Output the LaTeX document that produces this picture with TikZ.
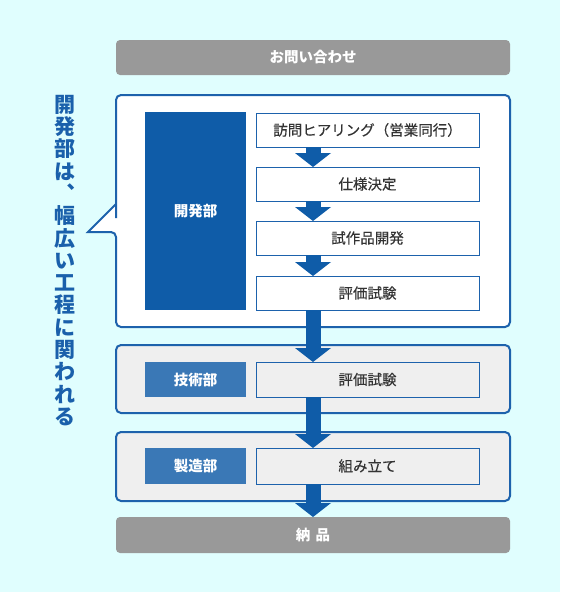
\documentclass[tikz,border=0pt]{standalone}
\usepackage{fontspec}
\setmainfont{Noto Sans CJK JP}
\newfontfamily\jpmed{Noto Sans CJK JP}[FakeBold=0.3]
\usetikzlibrary{arrows.meta}
\definecolor{bgc}{HTML}{E0FEFE}
\definecolor{grayc}{HTML}{999999}
\definecolor{darkblue}{HTML}{0F5CA8}
\definecolor{midblue}{HTML}{3A78B6}
\definecolor{borderblue}{HTML}{1D62AC}
\definecolor{arrowc}{HTML}{0F5CA8}
\definecolor{secfill}{HTML}{EFEFEF}
\definecolor{txt}{HTML}{333333}
\definecolor{vblue}{HTML}{1A60AB}
\begin{document}
\begin{tikzpicture}[x=1pt,y=-1pt,
  every node/.style={inner sep=0pt, outer sep=0pt},
  graybox/.style={fill=grayc, rounded corners=4pt, minimum width=394pt, minimum height=35pt,
    text=white, font=\bfseries\fontsize{14.5}{17}\selectfont},
  section/.style={fill=secfill, draw=borderblue, line width=2pt, rounded corners=5pt,
    minimum width=394pt},
  dept/.style={minimum width=101pt, text=white, font=\bfseries\fontsize{14.5}{17}\selectfont},
  stepbox/.style={fill=#1, draw=borderblue, line width=0.9pt, minimum width=223pt,
    text=txt, font=\jpmed\fontsize{14.5}{17}\selectfont},
  blockarrow/.style={draw=arrowc, line width=15pt,
    -{Triangle[width=36pt,length=14pt,line width=0pt]}},
  vtext/.style={text=vblue, align=center, font=\bfseries\fontsize{21}{22.3}\selectfont}
]
% background
\fill[bgc] (0,0) rectangle (560,592);

% top box
\node[graybox] (inq) at (313,57.5) {お問い合わせ};

% callout box
\draw[fill=white, draw=borderblue, line width=2pt]
  (116,218) [rounded corners=5pt] -- (116,95) -- (510,95) -- (510,327) -- (116,327) -- (116,232)
  [sharp corners] -- (88,232) -- (116,204) -- cycle;

% development department
\node[dept, fill=darkblue, minimum height=198pt] (dev) at (195.5,211) {開発部};
\node[stepbox=white, minimum height=34pt] (s1) at (367.5,130) {訪問ヒアリング（営業同行）};
\node[stepbox=white, minimum height=34pt] (s2) at (367.5,184) {仕様決定};
\node[stepbox=white, minimum height=34pt] (s3) at (367.5,238) {試作品開発};
\node[stepbox=white, minimum height=34pt] (s4) at (367.5,293) {評価試験};

% technical department
\node[section, minimum height=68pt] (tech) at (313,379) {};
\node[dept, fill=midblue, minimum height=35pt] (techl) at (195.5,379.5) {技術部};
\node[stepbox=secfill, minimum height=35pt] (t1) at (367.5,379.5) {評価試験};

% manufacturing department
\node[section, minimum height=69pt] (mfg) at (313,466.5) {};
\node[dept, fill=midblue, minimum height=36pt] (mfgl) at (195.5,466) {製造部};
\node[stepbox=secfill, minimum height=36pt] (m1) at (367.5,466) {組み立て};

% delivery
\node[graybox, minimum height=36pt] (deliv) at (313,535) {納\hspace{0.35em}品};

% arrows
\coordinate (ax) at (313,0);
\draw[blockarrow] (s1.south -| ax) -- (s2.north -| ax);
\draw[blockarrow] (s2.south -| ax) -- (s3.north -| ax);
\draw[blockarrow] (s3.south -| ax) -- (s4.north -| ax);
\draw[blockarrow] (s4.south -| ax) -- (t1.north -| ax);
\draw[blockarrow] (t1.south -| ax) -- (m1.north -| ax);
\draw[blockarrow] (m1.south -| ax) -- (deliv.north -| ax);

% vertical slogan
\node[vtext, anchor=north] (slogan) at (65,95)
  {開\\発\\部\\は\\︑\\幅\\広\\い\\工\\程\\に\\関\\わ\\れ\\る};
\end{tikzpicture}
\end{document}
